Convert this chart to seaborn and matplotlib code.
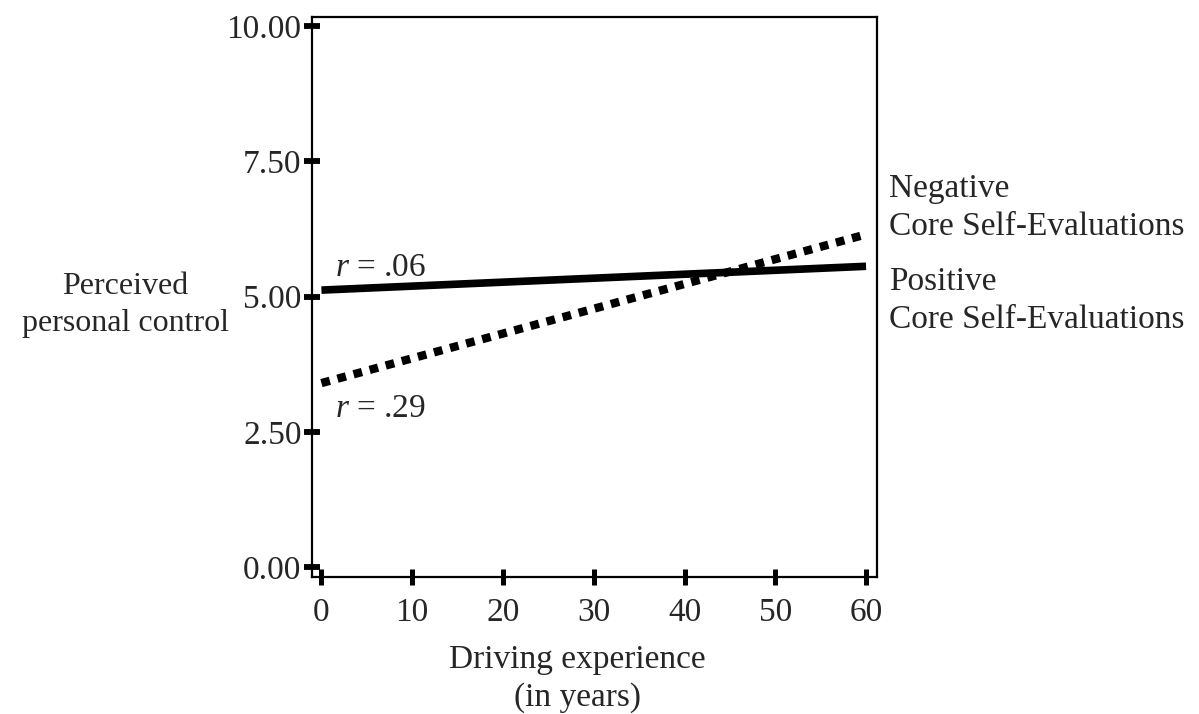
import matplotlib
matplotlib.use("Agg")
import matplotlib.pyplot as plt
import seaborn as sns
import pandas as pd

years = [0, 60]
positive_cse = [5.12, 5.56]
negative_cse = [3.40, 6.15]
x_ticks = [0, 10, 20, 30, 40, 50, 60]
y_ticks = [0.0, 2.5, 5.0, 7.5, 10.0]
y_tick_labels = ["0.00", "2.50", "5.00", "7.50", "10.00"]

sns.set_theme(style="white")
plt.rcParams["font.family"] = ["Liberation Serif", "DejaVu Serif"]
plt.rcParams["mathtext.fontset"] = "custom"
plt.rcParams["mathtext.it"] = "Liberation Serif:italic"
plt.rcParams["mathtext.rm"] = "Liberation Serif"

df = pd.DataFrame({
    "years": years * 2,
    "value": positive_cse + negative_cse,
    "group": ["Positive"] * 2 + ["Negative"] * 2,
})

fig = plt.figure(figsize=(11.99, 7.14), dpi=100)
ax = fig.add_axes([0.2602, 0.1919, 0.7314 - 0.2602, 0.9762 - 0.1919])

sns.lineplot(data=df[df.group == "Positive"], x="years", y="value", ax=ax,
             color="black", linewidth=5.5, legend=False, solid_capstyle="butt")
sns.lineplot(data=df[df.group == "Negative"], x="years", y="value", ax=ax,
             color="black", linewidth=6.0, legend=False)
ax.lines[1].set_dashes((1.05, 0.95))
ax.lines[1].set_dash_capstyle("butt")

ax.set_xlim(-1.04, 61.2)
ax.set_ylim(-0.185, 10.17)
ax.set_xticks(x_ticks)
ax.set_xticklabels([str(v) for v in x_ticks])
ax.set_yticks(y_ticks)
ax.set_yticklabels(y_tick_labels)

for s in ax.spines.values():
    s.set_visible(True)
    s.set_color("black")
    s.set_linewidth(1.6)

ax.tick_params(axis="y", direction="inout", length=11, width=4.2, color="black",
               labelsize=24, pad=2, left=True)
ax.tick_params(axis="x", direction="inout", length=12, width=3.6, color="black",
               labelsize=24, pad=9, bottom=True)

ax.set_xlabel("")
ax.set_ylabel("")

fs = 24
fig.text(125 / 1199, 1 - 305 / 714, "Perceived\npersonal control", ha="center", va="center",
         fontsize=23, linespacing=1.32)
fig.text(577 / 1199, 1 - 679 / 714, "Driving experience\n(in years)", ha="center", va="center",
         fontsize=fs, linespacing=1.3)
fig.text(889 / 1199, 1 - 208 / 714, "Negative\nCore Self-Evaluations", ha="left", va="center",
         fontsize=fs, linespacing=1.32)
fig.text(889 / 1199, 1 - 301 / 714, "Positive\nCore Self-Evaluations", ha="left", va="center",
         fontsize=fs, linespacing=1.32)
fig.text(335 / 1199, 1 - 268 / 714, r"$r$ = .06", ha="left", va="center", fontsize=fs)
fig.text(335 / 1199, 1 - 409 / 714, r"$r$ = .29", ha="left", va="center", fontsize=fs)

fig.savefig("out.png", dpi=100, facecolor="white")
